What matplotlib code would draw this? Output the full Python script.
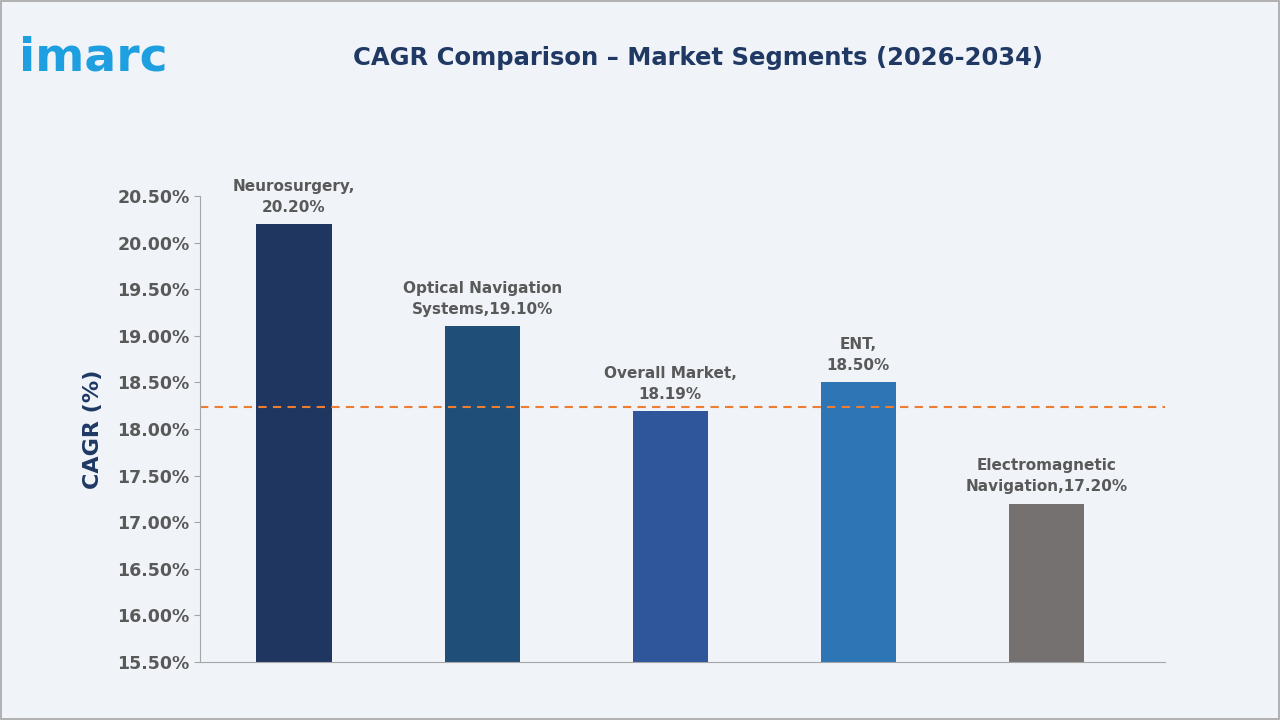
import matplotlib
matplotlib.use("Agg")
import matplotlib.pyplot as plt
from matplotlib.patches import Rectangle

# data
categories = ["Neurosurgery", "Optical Navigation Systems", "Overall Market", "ENT", "Electromagnetic Navigation"]
labels = ["Neurosurgery,\n20.20%", "Optical Navigation\nSystems,19.10%", "Overall Market,\n18.19%", "ENT,\n18.50%", "Electromagnetic\nNavigation,17.20%"]
values = [20.20, 19.10, 18.19, 18.50, 17.20]
colors = ["#1f3660", "#1f4e79", "#2f559a", "#2e75b6", "#767171"]
ref_line = 18.24
yticks = [15.5, 16.0, 16.5, 17.0, 17.5, 18.0, 18.5, 19.0, 19.5, 20.0, 20.5]

bg = "#f0f3f8"
fig = plt.figure(figsize=(12.8, 7.2), dpi=100, facecolor=bg)
fig.patches.append(Rectangle((0.001, 0.001), 0.998, 0.998, transform=fig.transFigure,
                             fill=False, edgecolor="#a6a6a6", lw=1.2))

ax = fig.add_axes([200/1280, 1 - 662/720, 965/1280, 466/720], facecolor=bg)
x = range(len(values))
ax.bar(x, [v - 15.5 for v in values], bottom=15.5, width=0.4, color=colors)
ax.axhline(ref_line, color="#ed7d31", lw=1.5, ls=(0, (4, 3)))
for i, (v, lab) in enumerate(zip(values, labels)):
    ax.text(i, v + 0.1, lab, ha="center", va="bottom", fontsize=11,
            color="#595959", fontweight="bold", linespacing=1.5)

ax.set_xlim(-0.5, 4.63)
ax.set_ylim(15.5, 20.5)
ax.set_yticks(yticks)
ax.set_yticklabels([f"{t:.2f}%" for t in yticks], fontsize=12.5, color="#595959", fontweight="bold")
ax.set_xticks([])
ax.tick_params(axis="y", length=4, color="#a6a6a6")
for s in ["top", "right"]:
    ax.spines[s].set_visible(False)
for s in ["left", "bottom"]:
    ax.spines[s].set_color("#a6a6a6")
ax.set_ylabel("CAGR (%)", fontsize=16, fontweight="bold", color="#1f3864", labelpad=10)

fig.text(0.545, 0.92, "CAGR Comparison \u2013 Market Segments (2026-2034)", ha="center", va="center",
         fontsize=17.5, fontweight="bold", color="#1f3864")
fig.text(0.015, 0.92, "imarc", ha="left", va="center", fontsize=34, fontweight="bold", color="#1e9fe0")

fig.savefig("out.png", dpi=100, facecolor=bg)
